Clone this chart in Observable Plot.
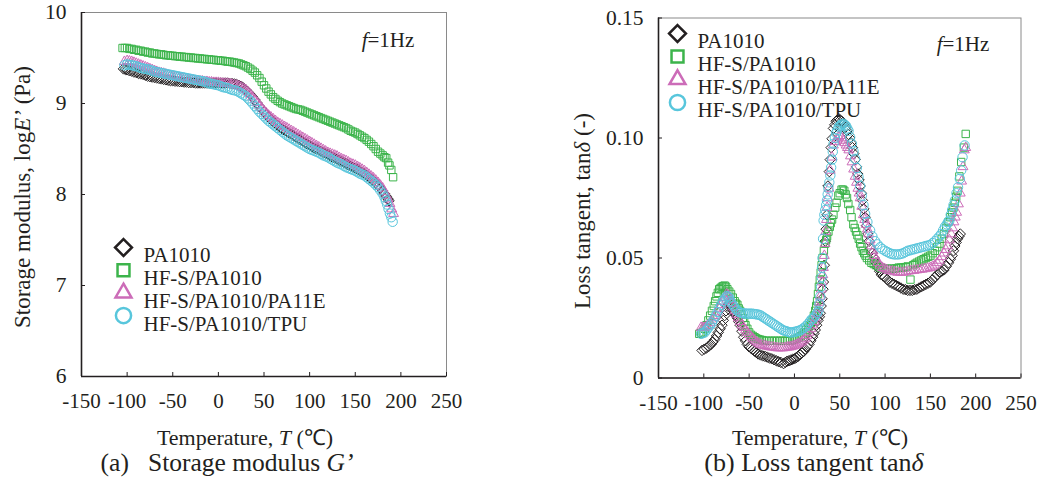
<!DOCTYPE html>
<html><head><meta charset="utf-8">
<script src="https://cdn.jsdelivr.net/npm/d3@7"></script>
<script src="https://cdn.jsdelivr.net/npm/@observablehq/plot@0.6"></script>
<style>
body{margin:0;background:#fff;}
#wrap{position:relative;width:1039px;height:481px;font-family:"Liberation Serif","Times New Roman",serif;color:#231f20;overflow:hidden;background:#fff}
.p{position:absolute;top:0}
.t{position:absolute;white-space:nowrap;line-height:1}
.c{transform:translate(-50%,-50%)}
.r{transform:translate(-50%,-50%) rotate(-90deg)}
</style></head><body><div id="wrap"></div>
<script>
// ---------- data ----------
const seriesNames = ["PA1010", "HF-S/PA1010", "HF-S/PA1010/PA11E", "HF-S/PA1010/TPU"];
const seriesColors = ["#231f20", "#3cb44b", "#cc6cb8", "#58c6dc"];
const seriesSymbols = ["diamond2", "square2", "triangle2", "circle"];
const xTicks = [-150, -100, -50, 0, 50, 100, 150, 200, 250];
const yTicksA = [6, 7, 8, 9, 10];
const yTicksB = [0, 0.05, 0.10, 0.15];

// (a) storage modulus, log E' [T, value]
const logE_PA1010 = [[-104,9.38],[-102,9.375],[-100,9.37],[-97.5,9.36],[-95,9.355],[-92.5,9.345],[-90,9.34],[-87.5,9.33],[-85,9.325],[-82.5,9.32],[-80,9.31],[-77.5,9.30],[-75,9.295],[-72.5,9.29],[-70,9.285],[-67.5,9.28],[-65,9.275],[-62.5,9.27],[-60,9.265],[-57.5,9.26],[-55,9.255],[-52.5,9.25],[-50,9.25],[-47.5,9.245],[-45,9.245],[-42.5,9.24],[-40,9.24],[-37.5,9.235],[-35,9.235],[-32.5,9.23],[-30,9.23],[-27.5,9.23],[-25,9.225],[-22.5,9.225],[-20,9.225],[-17.5,9.225],[-15,9.225],[-12.5,9.225],[-10,9.225],[-7.5,9.225],[-5,9.225],[-2.5,9.225],[0,9.225],[2.5,9.225],[5,9.225],[7.5,9.225],[10,9.225],[12.5,9.22],[15,9.22],[17.5,9.215],[20,9.21],[22.5,9.20],[25,9.19],[27.5,9.17],[30,9.15],[32.5,9.125],[35,9.10],[37.5,9.07],[40,9.04],[42.5,9.005],[45,8.97],[47.5,8.94],[50,8.91],[52.5,8.88],[55,8.85],[57.5,8.825],[60,8.80],[62.5,8.78],[65,8.76],[67.5,8.74],[70,8.72],[72.5,8.705],[75,8.69],[77.5,8.675],[80,8.66],[82.5,8.645],[85,8.63],[87.5,8.615],[90,8.60],[92.5,8.585],[95,8.57],[97.5,8.555],[100,8.54],[102.5,8.525],[105,8.51],[107.5,8.50],[110,8.49],[112.5,8.475],[115,8.46],[117.5,8.45],[120,8.44],[122.5,8.425],[125,8.41],[127.5,8.40],[130,8.39],[132.5,8.375],[135,8.36],[137.5,8.35],[140,8.34],[142.5,8.325],[145,8.31],[147.5,8.30],[150,8.29],[152.5,8.275],[155,8.26],[157.5,8.245],[160,8.23],[162.5,8.21],[165,8.19],[167.5,8.17],[170,8.15],[172.5,8.125],[175,8.10],[177.5,8.07],[180,8.04],[182,8.01],[184,7.98],[186,7.95],[187,7.93]];
const logE_HFS = [[-105,9.61],[-102.5,9.61],[-100,9.61],[-97.5,9.60],[-95,9.60],[-92.5,9.59],[-90,9.59],[-87.5,9.58],[-85,9.58],[-82.5,9.57],[-80,9.57],[-77.5,9.56],[-75,9.56],[-72.5,9.55],[-70,9.55],[-67.5,9.545],[-65,9.54],[-62.5,9.54],[-60,9.535],[-57.5,9.53],[-55,9.53],[-52.5,9.525],[-50,9.525],[-47.5,9.52],[-45,9.52],[-42.5,9.515],[-40,9.515],[-37.5,9.51],[-35,9.51],[-32.5,9.505],[-30,9.505],[-27.5,9.50],[-25,9.50],[-22.5,9.495],[-20,9.495],[-17.5,9.49],[-15,9.49],[-12.5,9.485],[-10,9.485],[-7.5,9.48],[-5,9.48],[-2.5,9.475],[0,9.475],[2.5,9.47],[5,9.47],[7.5,9.465],[10,9.46],[12.5,9.46],[15,9.455],[17.5,9.45],[20,9.445],[22.5,9.44],[25,9.43],[27.5,9.42],[30,9.41],[32.5,9.395],[35,9.38],[37.5,9.36],[40,9.34],[42.5,9.31],[45,9.28],[47.5,9.24],[50,9.20],[52.5,9.165],[55,9.13],[57.5,9.10],[60,9.07],[62.5,9.05],[65,9.03],[67.5,9.015],[70,9.00],[72.5,8.99],[75,8.98],[77.5,8.97],[80,8.96],[82.5,8.95],[85,8.94],[87.5,8.935],[90,8.93],[92.5,8.92],[95,8.91],[97.5,8.90],[100,8.89],[102.5,8.88],[105,8.87],[107.5,8.86],[110,8.85],[112.5,8.84],[115,8.83],[117.5,8.82],[120,8.81],[122.5,8.80],[125,8.79],[127.5,8.78],[130,8.77],[132.5,8.76],[135,8.75],[137.5,8.74],[140,8.73],[142.5,8.715],[145,8.70],[147.5,8.69],[150,8.68],[152.5,8.665],[155,8.65],[157.5,8.635],[160,8.62],[162.5,8.60],[165,8.58],[167.5,8.555],[170,8.53],[172.5,8.50],[175,8.47],[177.5,8.45],[180,8.43],[182,8.41],[184,8.40],[186,8.35],[187.5,8.32],[189.5,8.27],[191.5,8.19]];
const logE_PA11E = [[-103,9.46],[-100,9.47],[-97.5,9.465],[-95,9.46],[-92.5,9.45],[-90,9.44],[-87.5,9.43],[-85,9.42],[-82.5,9.41],[-80,9.40],[-77.5,9.39],[-75,9.38],[-72.5,9.37],[-70,9.36],[-67.5,9.35],[-65,9.34],[-62.5,9.335],[-60,9.33],[-57.5,9.32],[-55,9.31],[-52.5,9.305],[-50,9.30],[-47.5,9.295],[-45,9.29],[-42.5,9.285],[-40,9.28],[-37.5,9.275],[-35,9.27],[-32.5,9.265],[-30,9.26],[-27.5,9.255],[-25,9.25],[-22.5,9.25],[-20,9.245],[-17.5,9.245],[-15,9.24],[-12.5,9.24],[-10,9.235],[-7.5,9.235],[-5,9.23],[-2.5,9.23],[0,9.23],[2.5,9.225],[5,9.22],[7.5,9.22],[10,9.22],[12.5,9.215],[15,9.21],[17.5,9.205],[20,9.20],[22.5,9.19],[25,9.18],[27.5,9.165],[30,9.15],[32.5,9.125],[35,9.10],[37.5,9.07],[40,9.04],[42.5,9.01],[45,8.98],[47.5,8.95],[50,8.92],[52.5,8.895],[55,8.87],[57.5,8.85],[60,8.83],[62.5,8.81],[65,8.79],[67.5,8.775],[70,8.76],[72.5,8.745],[75,8.73],[77.5,8.715],[80,8.70],[82.5,8.685],[85,8.67],[87.5,8.655],[90,8.64],[92.5,8.625],[95,8.61],[97.5,8.595],[100,8.58],[102.5,8.565],[105,8.55],[107.5,8.535],[110,8.52],[112.5,8.505],[115,8.49],[117.5,8.475],[120,8.46],[122.5,8.45],[125,8.44],[127.5,8.43],[130,8.42],[132.5,8.405],[135,8.39],[137.5,8.38],[140,8.37],[142.5,8.355],[145,8.34],[147.5,8.33],[150,8.32],[152.5,8.305],[155,8.29],[157.5,8.275],[160,8.26],[162.5,8.24],[165,8.22],[167.5,8.20],[170,8.18],[172.5,8.155],[175,8.13],[177.5,8.10],[180,8.07],[182,8.03],[184,7.99],[186,7.95],[188,7.90],[190,7.84],[192,7.79]];
const logE_TPU = [[-103,9.42],[-100,9.43],[-97.5,9.425],[-95,9.42],[-92.5,9.415],[-90,9.41],[-87.5,9.40],[-85,9.39],[-82.5,9.385],[-80,9.38],[-77.5,9.375],[-75,9.37],[-72.5,9.36],[-70,9.35],[-67.5,9.345],[-65,9.34],[-62.5,9.335],[-60,9.33],[-57.5,9.325],[-55,9.32],[-52.5,9.315],[-50,9.31],[-47.5,9.305],[-45,9.30],[-42.5,9.295],[-40,9.29],[-37.5,9.285],[-35,9.28],[-32.5,9.275],[-30,9.27],[-27.5,9.265],[-25,9.26],[-22.5,9.255],[-20,9.25],[-17.5,9.245],[-15,9.24],[-12.5,9.23],[-10,9.22],[-7.5,9.215],[-5,9.21],[-2.5,9.205],[0,9.20],[2.5,9.19],[5,9.18],[7.5,9.175],[10,9.17],[12.5,9.16],[15,9.15],[17.5,9.145],[20,9.14],[22.5,9.125],[25,9.11],[27.5,9.095],[30,9.08],[32.5,9.055],[35,9.03],[37.5,9.00],[40,8.97],[42.5,8.94],[45,8.91],[47.5,8.885],[50,8.86],[52.5,8.835],[55,8.81],[57.5,8.79],[60,8.77],[62.5,8.75],[65,8.73],[67.5,8.71],[70,8.69],[72.5,8.67],[75,8.65],[77.5,8.635],[80,8.62],[82.5,8.605],[85,8.59],[87.5,8.575],[90,8.56],[92.5,8.545],[95,8.53],[97.5,8.515],[100,8.50],[102.5,8.49],[105,8.48],[107.5,8.47],[110,8.46],[112.5,8.445],[115,8.43],[117.5,8.42],[120,8.41],[122.5,8.395],[125,8.38],[127.5,8.365],[130,8.35],[132.5,8.34],[135,8.33],[137.5,8.315],[140,8.30],[142.5,8.29],[145,8.28],[147.5,8.27],[150,8.26],[152.5,8.245],[155,8.23],[157.5,8.22],[160,8.21],[162.5,8.19],[165,8.17],[167.5,8.15],[170,8.13],[172.5,8.105],[175,8.08],[177.5,8.045],[180,8.01],[182,7.97],[183.5,7.93],[185,7.89],[186.5,7.84],[188,7.79],[189.5,7.75],[191,7.70]];

// (b) loss tangent, tan delta [T, value]
const tan_PA1010 = [[-102,0.0115],[-99.5,0.012],[-97,0.0125],[-94.5,0.0132],[-92,0.014],[-90,0.015],[-88,0.016],[-86,0.0175],[-84,0.019],[-82,0.0205],[-80,0.022],[-78.5,0.024],[-77,0.026],[-75.5,0.028],[-74,0.030],[-72,0.031],[-70.5,0.030],[-69,0.029],[-67.5,0.028],[-66,0.027],[-64.5,0.026],[-63,0.025],[-61.5,0.0235],[-60,0.022],[-58,0.0195],[-56,0.017],[-54,0.0155],[-52,0.014],[-50,0.013],[-48,0.0125],[-46,0.0118],[-44,0.0112],[-42,0.0106],[-40,0.010],[-37.5,0.0096],[-35,0.0092],[-32.5,0.009],[-30,0.0087],[-27.5,0.0083],[-25,0.008],[-22.5,0.0076],[-20,0.0072],[-17.5,0.0068],[-15,0.0065],[-12,0.006],[-10,0.0065],[-8,0.007],[-6,0.0072],[-4,0.0075],[-2,0.0078],[0,0.008],[2,0.0085],[4,0.009],[6,0.0097],[8,0.0105],[10,0.011],[12,0.012],[14,0.013],[16,0.014],[18,0.0155],[20,0.017],[21.5,0.0185],[23,0.020],[24.5,0.022],[26,0.024],[27.5,0.0255],[28.5,0.027],[29.5,0.030],[30.5,0.033],[31.5,0.037],[32,0.040],[33,0.047],[34,0.057],[35,0.062],[36,0.068],[37,0.080],[38.5,0.086],[39.5,0.091],[40.5,0.096],[41.5,0.0997],[43,0.104],[44.5,0.1055],[46,0.107],[47.5,0.1075],[49,0.108],[50.5,0.1075],[52,0.107],[53.5,0.1065],[55,0.106],[56.5,0.1045],[58,0.103],[59.5,0.1015],[61,0.100],[62.5,0.098],[64,0.096],[65.5,0.0935],[67,0.091],[68.5,0.088],[70,0.085],[71.3,0.0825],[72.5,0.080],[73.8,0.077],[75,0.074],[76.5,0.0705],[78,0.067],[79.5,0.0635],[81,0.060],[82.5,0.057],[84,0.054],[86,0.052],[88,0.050],[90,0.048],[92,0.046],[94,0.0445],[96,0.043],[98,0.0425],[100,0.042],[102.5,0.041],[105,0.040],[107.5,0.0395],[110,0.039],[112.5,0.0385],[115,0.038],[117.5,0.0375],[120,0.037],[122.5,0.0368],[125,0.0365],[127.5,0.0365],[130,0.0365],[132.5,0.0368],[135,0.037],[137.5,0.0375],[140,0.038],[142.5,0.0385],[145,0.039],[147.5,0.0395],[150,0.040],[152.5,0.041],[155,0.042],[157.5,0.043],[160,0.044],[162.5,0.0445],[165,0.045],[167.5,0.0465],[170,0.048],[172,0.0495],[174,0.051],[175.5,0.053],[177,0.055],[178.5,0.0565],[180,0.058],[181.5,0.059],[183,0.060]];
const tan_HFS = [[-105,0.0184],[-103,0.0187],[-101,0.019],[-99,0.0205],[-97,0.022],[-95,0.024],[-93,0.026],[-91,0.028],[-89,0.030],[-87.5,0.032],[-86,0.034],[-84.5,0.0355],[-83,0.037],[-81.5,0.0375],[-80,0.038],[-78.5,0.0383],[-77,0.0385],[-75.5,0.038],[-74,0.037],[-72,0.036],[-70,0.035],[-68,0.0335],[-66,0.032],[-64.5,0.031],[-63,0.0305],[-61.5,0.029],[-60,0.028],[-58.5,0.0265],[-57,0.025],[-55.5,0.0235],[-54,0.022],[-52,0.0205],[-50,0.019],[-48,0.018],[-46,0.0175],[-44,0.017],[-42,0.0165],[-40,0.0162],[-38,0.016],[-36,0.0158],[-34,0.0156],[-31,0.0155],[-28,0.0155],[-25,0.0155],[-22,0.0155],[-19,0.0155],[-16,0.0155],[-13,0.0155],[-10,0.0155],[-7.5,0.0155],[-5,0.0155],[-2.5,0.0157],[0,0.016],[2.5,0.0164],[5,0.0168],[7,0.0174],[9,0.018],[11,0.019],[13,0.020],[15,0.021],[17,0.022],[18.5,0.023],[20,0.024],[21.5,0.026],[23,0.028],[24,0.030],[25,0.032],[26,0.035],[27,0.038],[28,0.041],[29,0.044],[30,0.047],[31,0.050],[32.5,0.053],[34,0.056],[35,0.0575],[36,0.059],[37.5,0.061],[39,0.063],[40,0.0645],[41.5,0.066],[43,0.068],[45,0.071],[46.5,0.073],[48.5,0.076],[50,0.077],[52,0.0785],[53.5,0.0785],[55,0.078],[56.5,0.0765],[58,0.075],[59.5,0.0725],[61.5,0.070],[63,0.067],[65,0.064],[66.5,0.0625],[68,0.061],[69.5,0.0595],[71,0.058],[72.5,0.056],[74,0.0545],[75.5,0.053],[77,0.052],[78.5,0.051],[80,0.050],[82.5,0.049],[85,0.048],[87.5,0.0475],[90,0.047],[92.5,0.0465],[95,0.046],[97.5,0.0457],[100,0.0455],[102.5,0.0455],[105,0.0455],[107.5,0.0455],[110,0.0455],[112.5,0.0457],[115,0.046],[117.5,0.046],[120,0.046],[122.5,0.0462],[125,0.0465],[128,0.041],[131,0.047],[133,0.0475],[135,0.048],[137.5,0.0485],[140,0.049],[142.5,0.0495],[145,0.050],[147.5,0.0505],[150,0.051],[152.5,0.052],[155,0.053],[157.5,0.0545],[160,0.056],[162.5,0.058],[165,0.060],[167.5,0.0625],[170,0.065],[172,0.067],[174,0.069],[175.5,0.071],[177,0.073],[178.5,0.0755],[180,0.078],[182,0.084],[184,0.090],[187,0.096],[189,0.1017]];
const tan_PA11E = [[-103,0.021],[-101,0.021],[-99,0.021],[-97,0.0215],[-95,0.022],[-93,0.023],[-91,0.024],[-89,0.025],[-87,0.026],[-85,0.0275],[-83,0.029],[-81,0.0305],[-79,0.032],[-77,0.0335],[-75,0.035],[-73.5,0.0345],[-72,0.034],[-70.5,0.0325],[-69,0.031],[-67.5,0.0295],[-66,0.028],[-64,0.0265],[-62,0.025],[-60,0.0235],[-58,0.022],[-56,0.021],[-54,0.020],[-52,0.019],[-50,0.018],[-48,0.0172],[-46,0.0165],[-44,0.0157],[-42,0.015],[-40,0.0145],[-38,0.014],[-35.5,0.0137],[-33,0.0135],[-30.5,0.0132],[-28,0.013],[-25.5,0.0129],[-23,0.0128],[-20.5,0.0126],[-18,0.0125],[-15.5,0.0125],[-13,0.0125],[-10.5,0.0126],[-8,0.0128],[-6,0.0129],[-4,0.013],[-2,0.0132],[0,0.0135],[2,0.0138],[4,0.0142],[6,0.0146],[8,0.015],[10,0.0157],[12,0.0165],[14,0.0177],[16,0.019],[18,0.0205],[20,0.022],[21.5,0.0235],[23,0.025],[24.5,0.027],[26,0.029],[27.3,0.0315],[28.5,0.034],[29.5,0.037],[30.5,0.040],[31.3,0.043],[32,0.046],[33,0.051],[33.8,0.056],[34.5,0.061],[35.3,0.066],[36,0.071],[37,0.075],[38,0.079],[39.5,0.0865],[41.5,0.092],[43,0.097],[45,0.0985],[47,0.0995],[48.8,0.1005],[50.5,0.101],[52.3,0.100],[54,0.099],[55.5,0.098],[57,0.097],[58.5,0.096],[60,0.095],[61.8,0.0925],[63.5,0.090],[65.3,0.087],[67,0.084],[68.5,0.0815],[70,0.079],[71.3,0.077],[72.5,0.075],[74.3,0.0715],[76,0.068],[77.5,0.066],[79,0.064],[80.5,0.062],[82,0.060],[83.5,0.0575],[85,0.055],[86.5,0.053],[88,0.051],[90,0.0495],[92,0.048],[94.5,0.047],[97,0.046],[99.5,0.0455],[102,0.045],[105,0.0447],[108,0.0445],[111,0.0442],[114,0.044],[117,0.044],[120,0.044],[123,0.0442],[126,0.0445],[129,0.0447],[132,0.0448],[135,0.045],[138,0.0452],[141,0.0453],[144,0.0455],[147,0.0457],[150,0.046],[152.5,0.0465],[155,0.047],[157.5,0.048],[160,0.049],[162.5,0.0505],[165,0.052],[167,0.0535],[169,0.055],[171,0.0575],[173,0.060],[174.5,0.0625],[176,0.065],[177.5,0.067],[179,0.069],[181,0.0725],[183,0.077],[184.5,0.082],[186,0.088],[187.5,0.095],[189,0.096]];
const tan_TPU = [[-103,0.0184],[-101,0.0187],[-99,0.019],[-97,0.020],[-95,0.021],[-93,0.022],[-91,0.023],[-89,0.0245],[-87,0.026],[-85,0.0275],[-83,0.029],[-81,0.0305],[-79,0.032],[-77,0.033],[-75,0.034],[-73.5,0.034],[-72,0.0335],[-70.5,0.032],[-69,0.031],[-67,0.030],[-65,0.029],[-63,0.028],[-61,0.0275],[-59,0.0272],[-57,0.027],[-55,0.0269],[-53,0.0268],[-51,0.0268],[-49,0.0268],[-47,0.0268],[-45,0.0267],[-43,0.0266],[-41,0.0265],[-39,0.0263],[-37,0.026],[-35,0.0255],[-33,0.025],[-31,0.0245],[-29,0.024],[-27,0.0235],[-25,0.023],[-23,0.0225],[-21,0.022],[-19,0.0215],[-17,0.021],[-15,0.0205],[-13,0.020],[-11,0.0197],[-9,0.0195],[-7,0.0192],[-5,0.019],[-3,0.019],[-1,0.0191],[1,0.0193],[3,0.0195],[5,0.0197],[7,0.020],[9,0.0205],[11,0.021],[13,0.0217],[15,0.0225],[17,0.0235],[19,0.0245],[21,0.025],[23,0.026],[25,0.027],[26.5,0.028],[27.5,0.031],[28.5,0.034],[29.3,0.038],[30,0.042],[30.5,0.046],[31,0.050],[31.6,0.058],[32.2,0.0656],[33,0.068],[34,0.070],[35,0.072],[35.9,0.074],[36.7,0.0765],[37.5,0.079],[38.5,0.0815],[39.6,0.0844],[40.5,0.0877],[41.5,0.091],[42.3,0.0943],[43.2,0.0976],[44.6,0.100],[46,0.102],[47.3,0.1033],[48.7,0.1045],[50,0.105],[51,0.1055],[52.5,0.1058],[54,0.106],[55.5,0.1055],[57,0.105],[58.3,0.104],[59.7,0.103],[61.5,0.1003],[63.4,0.0976],[65.2,0.0945],[67,0.0913],[68.8,0.0875],[70.7,0.0837],[72.5,0.080],[74.4,0.076],[76.2,0.072],[78,0.0684],[80.5,0.065],[83.5,0.0615],[86,0.059],[89,0.057],[91.5,0.0557],[94.5,0.0545],[97,0.0537],[100,0.053],[102.5,0.0525],[105,0.052],[107.5,0.0517],[110,0.0515],[112.5,0.0515],[115,0.0515],[117.5,0.0517],[120,0.052],[122.5,0.0525],[125,0.053],[127.5,0.0532],[130,0.0535],[132.5,0.0537],[135,0.054],[137.5,0.0542],[140,0.0545],[142.5,0.0547],[145,0.055],[147.5,0.0552],[150,0.0555],[152.5,0.0562],[155,0.057],[157.5,0.058],[160,0.059],[162,0.060],[164,0.0615],[166,0.063],[168,0.064],[169.5,0.065],[171,0.0656],[172.5,0.068],[174,0.070],[175.5,0.072],[177,0.074],[178.8,0.077],[180.5,0.0795],[182.5,0.083],[184,0.0865],[185.5,0.092],[187.8,0.0969]];

// ---------- drawing ----------
const ink = "#231f20";
function chart(o) {
  const marks = [Plot.frame({stroke: "#8a8a8a", strokeWidth: 1})];
  o.series.forEach((data, i) => {
    marks.push(Plot.dot(data, {x: d => d[0], y: d => d[1], symbol: seriesSymbols[i], r: 4.7,
      stroke: seriesColors[i], strokeWidth: 1, fill: "none"}));
  });
  marks.push(
    Plot.ruleX([o.xDomain[0]], {stroke: ink, strokeWidth: 1.6}),
    Plot.ruleY([o.yDomain[0]], {stroke: ink, strokeWidth: 1.6}),
    Plot.axisX({ticks: xTicks, tickFormat: d => String(d), tickSize: -4, tickPadding: 21, label: null, fontSize: 21, stroke: ink}),
    Plot.axisY({ticks: o.yTicks, tickFormat: o.yFmt, tickSize: -4, tickPadding: 19, label: null, fontSize: 21.5, stroke: ink})
  );
  seriesNames.forEach((name, i) => {
    marks.push(
      Plot.dot([name], {frameAnchor: "top-left", dx: o.legDx, dy: o.legDy + o.legStep * i,
        symbol: seriesSymbols[i], r: 7.6, stroke: seriesColors[i], strokeWidth: 2.5, fill: "none"}),
      Plot.text([name], {frameAnchor: "top-left", dx: o.legDx + 20, dy: o.legDy + o.legStep * i,
        text: d => d, textAnchor: "start", fontSize: 21, fill: ink})
    );
  });
  const svg = Plot.plot({
    width: o.width, height: 481,
    marginLeft: o.ml, marginRight: o.mr, marginTop: o.mt, marginBottom: o.mb,
    x: {domain: o.xDomain}, y: {domain: o.yDomain},
    style: {fontFamily: '"Liberation Serif","Times New Roman",serif', color: ink, background: "transparent", overflow: "visible"},
    marks
  });
  svg.classList.add("p");
  svg.style.left = o.left + "px";
  return svg;
}

const wrap = document.getElementById("wrap");
wrap.appendChild(chart({
  series: [logE_PA1010, logE_HFS, logE_PA11E, logE_TPU],
  xDomain: [-150, 250], yDomain: [6, 10], yTicks: yTicksA, yFmt: d => String(d),
  width: 520, left: 0, ml: 81, mr: 74, mt: 12, mb: 105,
  legDx: 42, legDy: 235, legStep: 22.7
}));
wrap.appendChild(chart({
  series: [tan_PA1010, tan_HFS, tan_PA11E, tan_TPU],
  xDomain: [-150, 250], yDomain: [0, 0.15], yTicks: yTicksB, yFmt: d => d === 0 ? "0" : d.toFixed(2),
  width: 519, left: 520, ml: 138, mr: 18.5, mt: 17.5, mb: 103.5,
  legDx: 19, legDy: 15.5, legStep: 23
}));

const texts = [
  {html: "Storage modulus, log<i>E’</i> (Pa)", x: 22, y: 197, size: 23, cls: "r"},
  {html: "Loss tangent, tan<i>δ</i> (-)", x: 582, y: 211, size: 23, cls: "r"},
  {html: "Temperature, <i>T</i> (℃)", x: 245, y: 438, size: 22, cls: "c"},
  {html: "Temperature, <i>T</i> (℃)", x: 820, y: 438, size: 22, cls: "c"},
  {html: "(a)&nbsp;&nbsp;&nbsp;Storage modulus <i>G’</i>", x: 227, y: 463, size: 25.5, cls: "c"},
  {html: "(b) Loss tangent tan<i>δ</i>", x: 814, y: 463, size: 26, cls: "c"},
  {html: "<i>f</i>=1Hz", x: 388, y: 40, size: 21, cls: "c"},
  {html: "<i>f</i>=1Hz", x: 963, y: 44, size: 21, cls: "c"}
];
texts.forEach(t => {
  const d = document.createElement("div");
  d.className = "t " + t.cls;
  d.style.left = t.x + "px"; d.style.top = t.y + "px"; d.style.fontSize = t.size + "px";
  d.innerHTML = t.html;
  wrap.appendChild(d);
});
</script>
</body></html>
